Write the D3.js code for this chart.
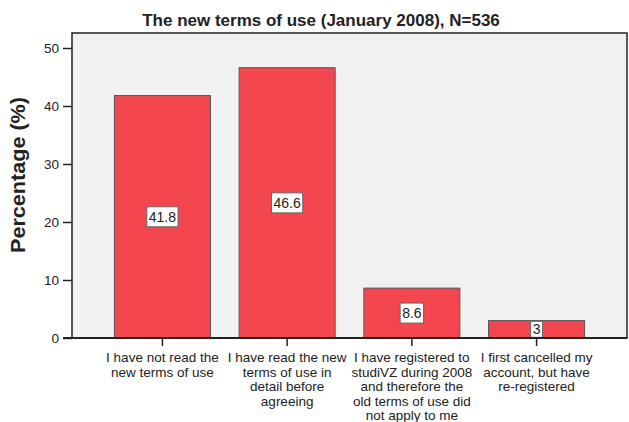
<!DOCTYPE html>
<html>
<head>
<meta charset="utf-8">
<script src="https://cdn.jsdelivr.net/npm/d3@7"></script>
<style>
  body { margin: 0; background: #fff; }
  text { font-family: "Liberation Sans", Arial, sans-serif; fill: #222; }
</style>
</head>
<body>
<div id="chart"></div>
<script>
const categories = [
    ["I have not read the", "new terms of use"],
    ["I have read the new", "terms of use in", "detail before", "agreeing"],
    ["I have registered to", "studiVZ during 2008", "and therefore the", "old terms of use did", "not apply to me"],
    ["I first cancelled my", "account, but have", "re-registered"]
];
const values = [41.8, 46.6, 8.6, 3];
const valueLabels = ["41.8", "46.6", "8.6", "3"];
const yTicks = [0, 10, 20, 30, 40, 50];

const width = 629, height = 422;
const plot = { left: 72, right: 627, top: 33, bottom: 338 };

const svg = d3.select('#chart').append('svg')
    .attr('width', width)
    .attr('height', height);

const yScale = d3.scaleLinear()
    .domain([0, 50])
    .range([plot.bottom, 48]);

const xScale = d3.scaleBand()
    .domain(d3.range(values.length))
    .range([plot.left, plot.right])
    .paddingInner(0.23)
    .paddingOuter(0.34);

// plot background
svg.append('rect')
    .attr('x', plot.left)
    .attr('y', plot.top)
    .attr('width', plot.right - plot.left)
    .attr('height', plot.bottom - plot.top)
    .attr('fill', '#f1f1f1')
    .attr('stroke', '#222')
    .attr('stroke-width', 1.5);

// bars
svg.selectAll('.bar')
    .data(values)
    .enter()
    .append('rect')
    .attr('class', 'bar')
    .attr('x', (d, i) => xScale(i))
    .attr('y', d => yScale(d))
    .attr('width', xScale.bandwidth())
    .attr('height', d => plot.bottom - yScale(d))
    .attr('fill', '#f3464f')
    .attr('stroke', '#555')
    .attr('stroke-width', 1);

// value labels
const lab = svg.selectAll('.vlab')
    .data(values)
    .enter()
    .append('g')
    .attr('class', 'vlab')
    .attr('transform', (d, i) => `translate(${xScale(i) + xScale.bandwidth() / 2},${yScale(d / 2)})`);

lab.each(function (d, i) {
    const g = d3.select(this);
    const t = g.append('text')
        .attr('text-anchor', 'middle')
        .attr('dy', '0.36em')
        .style('font-size', '14px')
        .text(valueLabels[i]);
    const w = t.node().getComputedTextLength();
    const h = i === 3 ? 16 : 20;
    g.insert('rect', 'text')
        .attr('x', -w / 2 - 2)
        .attr('y', -h / 2)
        .attr('width', w + 4)
        .attr('height', h)
        .attr('fill', '#fff')
        .attr('stroke', '#666')
        .attr('stroke-width', 1);
});

// y axis
const yAxis = d3.axisLeft(yScale)
    .tickValues(yTicks)
    .tickSize(9)
    .tickPadding(4);

const yg = svg.append('g')
    .attr('transform', `translate(${plot.left},0)`)
    .call(yAxis);
yg.select('.domain').remove();
yg.selectAll('line').attr('stroke', '#222').attr('stroke-width', 1.5);
yg.selectAll('text').style('font-size', '13.5px').style('font-family', '"Liberation Sans", Arial, sans-serif').attr('fill', '#222');

// x axis
const xAxis = d3.axisBottom(xScale)
    .tickSize(8)
    .tickFormat('');

const xg = svg.append('g')
    .attr('transform', `translate(0,${plot.bottom})`)
    .call(xAxis);
xg.select('.domain').remove();
xg.selectAll('line').attr('stroke', '#222').attr('stroke-width', 1.5);

svg.append('line')
    .attr('x1', plot.left - 9)
    .attr('x2', plot.right)
    .attr('y1', plot.bottom)
    .attr('y2', plot.bottom)
    .attr('stroke', '#222')
    .attr('stroke-width', 1.8);

// category labels
svg.selectAll('.clab')
    .data(categories)
    .enter()
    .append('text')
    .attr('class', 'clab')
    .attr('text-anchor', 'middle')
    .attr('x', (d, i) => xScale(i) + xScale.bandwidth() / 2)
    .attr('y', 362)
    .style('font-size', '13.5px')
    .each(function (d) {
        d3.select(this).selectAll('tspan')
            .data(d)
            .enter()
            .append('tspan')
            .attr('x', d3.select(this).attr('x'))
            .attr('dy', (s, j) => j === 0 ? 0 : 14.5)
            .text(s => s);
    });

// title
svg.append('text')
    .attr('x', 321)
    .attr('y', 26)
    .attr('text-anchor', 'middle')
    .style('font-size', '17px')
    .style('font-weight', 'bold')
    .text('The new terms of use (January 2008), N=536');

// y label
svg.append('text')
    .attr('transform', 'rotate(-90)')
    .attr('x', -175)
    .attr('y', 25)
    .attr('text-anchor', 'middle')
    .attr('textLength', 156)
    .attr('lengthAdjust', 'spacingAndGlyphs')
    .style('font-size', '19.5px')
    .style('font-weight', 'bold')
    .text('Percentage (%)');
</script>
</body>
</html>
